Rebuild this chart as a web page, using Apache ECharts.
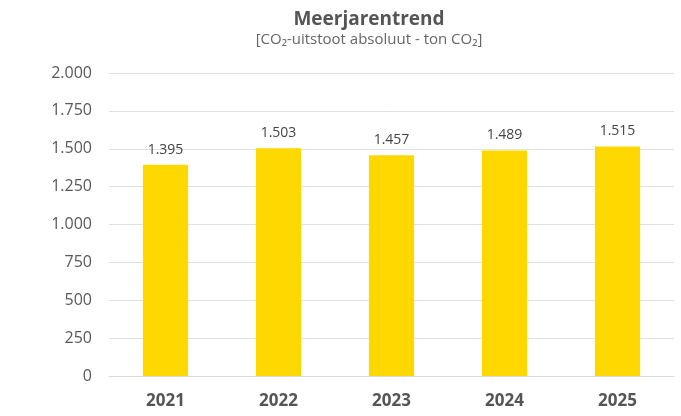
<!DOCTYPE html>
<html>
<head>
<meta charset="utf-8">
<script src="https://cdn.jsdelivr.net/npm/echarts@6/dist/echarts.min.js"></script>
<style>
  html, body { margin: 0; padding: 0; background: #fff; }
  #main { width: 681px; height: 416px; }
</style>
</head>
<body>
<div id="main"></div>
<script>
// jaren en CO2-uitstoot (ton)
const years = ['2021', '2022', '2023', '2024', '2025'];
const uitstoot = [1395, 1503, 1457, 1489, 1515];
const yTicks = [0, 250, 500, 750, 1000, 1250, 1500, 1750, 2000];

// duizendtallen met een punt, zoals in het Nederlands
const nl = v => String(v).replace(/\B(?=(\d{3})+(?!\d))/g, '.');

const myChart = echarts.init(document.getElementById('main'));
const font = '"Open Sans", "Noto Sans", sans-serif';

const option = {
  animation: false,
  title: {
    text: 'Meerjarentrend',
    subtext: '[CO₂-uitstoot absoluut - ton CO₂]',
    left: 364,
    textAlign: 'center',
    top: 5,
    itemGap: 3,
    textStyle: { fontFamily: font, fontSize: 19, fontWeight: 'bold', color: '#555' },
    subtextStyle: { fontFamily: font, fontSize: 15, color: '#666' }
  },
  grid: { left: 109, right: 7, top: 73, bottom: 40, containLabel: false },
  xAxis: {
    type: 'category',
    data: years,
    axisTick: { show: false },
    axisLine: { lineStyle: { color: '#d9d9d9', width: 1 } },
    axisLabel: { margin: 17, fontFamily: font, fontSize: 17, fontWeight: 'bold', color: '#555' }
  },
  yAxis: {
    type: 'value',
    min: yTicks[0],
    max: yTicks[yTicks.length - 1],
    interval: 250,
    axisLine: { show: false },
    axisTick: { show: false },
    splitLine: { lineStyle: { color: '#e0e0e0', width: 1 } },
    axisLabel: { margin: 17, fontFamily: font, fontSize: 16, color: '#595959', formatter: nl }
  },
  series: [
    {
      type: 'bar',
      data: uitstoot,
      barWidth: '40%',
      itemStyle: { color: '#FFD800' },
      label: {
        show: true,
        position: 'top',
        distance: 8,
        fontFamily: font,
        fontSize: 14,
        color: '#444',
        formatter: p => nl(p.value)
      }
    }
  ]
};
myChart.setOption(option);
</script>
</body>
</html>
